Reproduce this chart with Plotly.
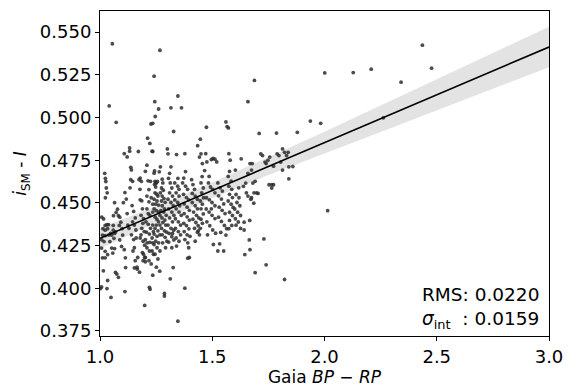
import plotly.graph_objects as go

# Scatter data: (Gaia BP-RP, i_SM - I)
points = [
(1.021,0.4673),(1.024,0.4644),(1.026,0.4625),(1.028,0.4587),(1.024,0.4530),(1.032,0.4559),(1.008,0.4416),(1.016,0.4406),
(1.023,0.4368),(1.031,0.4372),(1.038,0.4372),(1.013,0.4349),(1.023,0.4340),(1.034,0.4349),(1.011,0.4311),(1.023,0.4308),
(1.039,0.4311),(1.047,0.4321),(1.008,0.4283),(1.018,0.4273),(1.007,0.4235),(1.023,0.4216),(1.011,0.4178),(1.023,0.4178),
(1.034,0.4197),(1.015,0.4102),(1.034,0.4045),(1.007,0.4007),(1.002,0.3998),(1.031,0.3998),(1.049,0.3946),(1.059,0.4368),
(1.060,0.4425),(1.065,0.4501),(1.059,0.4340),(1.069,0.4330),(1.052,0.4311),(1.062,0.4292),(1.044,0.4273),(1.052,0.4235),
(1.065,0.4232),(1.057,0.4206),(1.069,0.4092),(1.075,0.4083),(1.082,0.4064),(1.065,0.4321),(1.072,0.4444),(1.078,0.4463),
(1.082,0.4425),(1.088,0.4416),(1.093,0.4387),(1.086,0.4368),(1.098,0.4349),(1.101,0.4311),(1.088,0.4283),(1.104,0.4501),
(1.096,0.4245),(1.111,0.3980),(1.108,0.4226),(1.113,0.4178),(1.114,0.4121),
(1.108,0.4788),(1.111,0.4560),(1.117,0.4522),(1.121,0.4437),(1.124,0.4370),(1.129,0.4351),(1.121,0.4769),(1.132,0.4822),
(1.132,0.4803),(1.137,0.4708),(1.140,0.4693),(1.137,0.4636),(1.134,0.4588),(1.145,0.4626),(1.143,0.4484),(1.150,0.4450),
(1.157,0.4412),(1.145,0.4389),(1.153,0.4370),(1.160,0.4341),(1.140,0.4313),(1.150,0.4285),(1.161,0.4294),(1.153,0.4237),
(1.147,0.4218),(1.168,0.4180),(1.157,0.4161),(1.165,0.4123),(1.153,0.4119),(1.166,0.4112),(1.176,0.4094),(1.171,0.4801),
(1.174,0.4636),(1.179,0.4645),(1.184,0.4626),(1.178,0.4579),(1.179,0.4518),(1.186,0.4512),(1.189,0.4465),(1.183,0.4427),
(1.194,0.4408),(1.191,0.4380),(1.186,0.4351),(1.197,0.4332),(1.183,0.4313),(1.179,0.4294),(1.192,0.4275),(1.199,0.4252),
(1.189,0.4209),(1.192,0.4161),(1.202,0.4155),(1.194,0.4199),(1.199,0.4180),
(1.202,0.4685),(1.209,0.4721),(1.212,0.4879),(1.222,0.4848),(1.232,0.4803),(1.235,0.4801),(1.225,0.4626),(1.214,0.4629),
(1.218,0.4578),(1.209,0.4540),(1.218,0.4506),(1.228,0.4530),(1.235,0.4492),(1.209,0.4465),(1.215,0.4437),(1.222,0.4427),
(1.235,0.4446),(1.205,0.4389),(1.215,0.4374),(1.225,0.4351),(1.235,0.4370),(1.207,0.4328),(1.220,0.4317),(1.232,0.4294),
(1.238,0.4332),(1.202,0.4285),(1.210,0.4266),(1.222,0.4269),(1.235,0.4266),(1.209,0.4237),(1.220,0.4218),(1.232,0.4218),
(1.238,0.4199),(1.202,0.4180),(1.218,0.4161),(1.228,0.4142),(1.235,0.4076),(1.220,0.4005),(1.223,0.3994),(1.243,0.4687),
(1.241,0.4674),(1.245,0.4626),(1.248,0.4617),(1.243,0.4607),(1.251,0.4617),(1.256,0.4625),(1.248,0.4593),(1.245,0.4559),
(1.253,0.4551),(1.258,0.4540),(1.241,0.4521),(1.254,0.4511),(1.248,0.4492),(1.261,0.4487),(1.241,0.4465),(1.251,0.4454),
(1.261,0.4446),(1.267,0.4427),(1.246,0.4416),(1.254,0.4403),(1.261,0.4389),(1.267,0.4370),(1.251,0.4370),(1.245,0.4351),
(1.258,0.4336),(1.241,0.4317),(1.254,0.4304),(1.267,0.4313),(1.248,0.4275),(1.261,0.4266),(1.241,0.4256),(1.254,0.4237),
(1.267,0.4218),(1.245,0.4199),(1.258,0.4171),(1.251,0.4123),(1.266,0.4100),(1.199,0.3899),(1.269,0.4711),(1.264,0.4682),
(1.277,0.4639),(1.280,0.4617),(1.274,0.4587),(1.282,0.4574),(1.269,0.4559),(1.277,0.4540),(1.285,0.4525),(1.274,0.4511),
(1.290,0.4503),(1.277,0.4483),(1.287,0.4465),(1.271,0.4454),(1.284,0.4446),(1.295,0.4427),(1.276,0.4412),(1.289,0.4399),
(1.280,0.4385),(1.293,0.4370),(1.274,0.4351),(1.287,0.4336),(1.297,0.4328),(1.277,0.4313),(1.290,0.4298),(1.298,0.4275),
(1.279,0.4266),(1.292,0.4237),(1.287,0.3969),(1.287,0.3954),(1.300,0.4816),(1.303,0.4787),(1.310,0.4673),(1.316,0.4711),
(1.305,0.4644),(1.313,0.4617),(1.320,0.4587),(1.310,0.4559),(1.323,0.4540),(1.303,0.4521),(1.316,0.4502),(1.326,0.4483),
(1.306,0.4465),(1.320,0.4446),(1.329,0.4427),(1.310,0.4412),(1.323,0.4389),(1.303,0.4370),(1.316,0.4351),(1.328,0.4340),
(1.308,0.4321),(1.320,0.4302),(1.329,0.4283),(1.306,0.4270),(1.320,0.4237),(1.313,0.4055),(1.326,0.4121),(1.323,0.4321),
(1.341,0.4783),(1.347,0.4644),(1.333,0.4617),(1.346,0.4598),(1.352,0.4579),(1.339,0.4559),(1.352,0.4540),(1.333,0.4517),
(1.346,0.4502),(1.355,0.4483),(1.339,0.4465),(1.352,0.4446),(1.362,0.4427),(1.336,0.4407),(1.349,0.4389),(1.359,0.4370),
(1.336,0.4351),(1.349,0.4332),(1.359,0.4313),(1.339,0.4294),(1.352,0.4275),(1.341,0.4247),(1.347,0.3807),
(1.378,0.4788),(1.381,0.4683),(1.373,0.4645),(1.368,0.4617),(1.381,0.4598),(1.390,0.4579),(1.372,0.4550),(1.385,0.4531),
(1.395,0.4518),(1.375,0.4494),(1.388,0.4475),(1.398,0.4456),(1.375,0.4437),(1.388,0.4418),(1.398,0.4399),(1.373,0.4380),
(1.385,0.4367),(1.396,0.4348),(1.375,0.4332),(1.388,0.4313),(1.401,0.4304),(1.378,0.4285),(1.391,0.4266),(1.395,0.4237),
(1.378,0.4000),(1.408,0.4636),(1.414,0.4607),(1.421,0.4579),(1.411,0.4555),(1.424,0.4540),(1.434,0.4521),(1.411,0.4502),
(1.424,0.4483),(1.434,0.4465),(1.417,0.4446),(1.430,0.4427),(1.440,0.4412),(1.414,0.4404),(1.427,0.4385),(1.437,0.4366),
(1.421,0.4351),(1.434,0.4328),(1.443,0.4313),(1.424,0.4275),(1.398,0.4180),(1.391,0.4176),(1.435,0.4835),(1.447,0.4873),
(1.450,0.4787),(1.443,0.4768),(1.456,0.4730),(1.455,0.4654),(1.450,0.4617),(1.460,0.4587),(1.453,0.4559),(1.461,0.4530),
(1.447,0.4511),(1.456,0.4492),(1.450,0.4465),(1.460,0.4435),(1.450,0.4404),(1.456,0.4380),(1.447,0.4351),(1.438,0.4336),
(1.471,0.4788),(1.476,0.4740),(1.466,0.4689),(1.486,0.4655),(1.496,0.4754),(1.504,0.4760),(1.512,0.4756),(1.520,0.4740),
(1.483,0.4617),(1.492,0.4593),(1.502,0.4579),(1.512,0.4559),(1.474,0.4530),(1.487,0.4518),(1.499,0.4502),(1.512,0.4483),
(1.473,0.4464),(1.486,0.4446),(1.499,0.4427),(1.512,0.4408),(1.476,0.4389),(1.489,0.4366),(1.502,0.4341),(1.515,0.4322),
(1.479,0.4313),(1.496,0.4465),(1.505,0.4256),(1.533,0.4260),(1.525,0.4218),(1.551,0.4218),(1.525,0.4617),(1.535,0.4588),
(1.545,0.4569),(1.528,0.4541),(1.541,0.4522),(1.551,0.4494),(1.531,0.4475),(1.544,0.4456),(1.557,0.4437),(1.528,0.4416),
(1.541,0.4391),(1.554,0.4368),(1.564,0.4349),(1.538,0.4327),(1.561,0.4311),(1.574,0.4788),(1.580,0.4750),(1.577,0.4684),
(1.571,0.4655),(1.584,0.4627),(1.574,0.4598),(1.587,0.4579),(1.577,0.4550),(1.590,0.4531),(1.571,0.4511),(1.584,0.4492),
(1.593,0.4473),(1.577,0.4445),(1.590,0.4426),(1.577,0.4397),(1.587,0.4368),(1.574,0.4349),
(1.603,0.4692),(1.618,0.4588),(1.629,0.4758),(1.606,0.4549),(1.619,0.4530),(1.610,0.4502),(1.623,0.4483),(1.600,0.4464),
(1.613,0.4445),(1.626,0.4426),(1.603,0.4407),(1.616,0.4388),(1.606,0.4369),(1.626,0.4350),(1.642,0.4341),(1.645,0.4197),
(1.665,0.4283),(1.668,0.4226),(1.659,0.4673),(1.668,0.4730),(1.678,0.4730),(1.675,0.4692),(1.681,0.4616),(1.686,0.4559),
(1.691,0.4626),(1.698,0.4559),(1.704,0.4555),(1.649,0.4616),(1.639,0.4597),(1.652,0.4559),(1.659,0.4540),(1.672,0.4521),
(1.685,0.4498),(1.691,0.4091),(1.675,0.4530),(1.667,0.4397),(1.642,0.4387),(1.716,0.4787),(1.724,0.4777),(1.730,0.4289),
(1.740,0.4730),(1.748,0.4749),(1.756,0.4768),(1.735,0.4739),(1.765,0.4606),(1.753,0.4606),(1.773,0.4606),(1.765,0.4587),
(1.773,0.4715),(1.789,0.4787),(1.797,0.4777),(1.805,0.4739),(1.813,0.4816),(1.813,0.4692),(1.822,0.4796),(1.838,0.4796),
(1.831,0.4777),(1.841,0.4711),(1.841,0.4641),(1.859,0.4713),(1.740,0.4137),(1.822,0.4051),(2.014,0.4454),
(1.055,0.5432),(1.267,0.5394),(1.241,0.5242),(1.041,0.5068),(1.072,0.4972),(1.244,0.5093),(1.347,0.5126),(1.261,0.5050),
(1.316,0.5057),(1.363,0.5057),(1.246,0.5006),(1.227,0.4962),(1.235,0.4966),(1.328,0.4918),(1.659,0.5093),(1.688,0.5217),
(1.474,0.4943),(1.561,0.4974),(1.566,0.4947),(1.572,0.4939),(1.709,0.4907),(1.786,0.4909),(1.879,0.4913),(1.937,0.4979),
(1.983,0.4966),(2.001,0.5261),(2.128,0.5263),(2.208,0.5283),(2.341,0.5207),(2.436,0.5424),(2.477,0.5289),(2.262,0.4998),
]
bp_rp = [p[0] for p in points]
delta_i = [p[1] for p in points]

# Best-fit line endpoints and confidence band
fit_x = [1.0, 3.0]
fit_y = [0.4292, 0.5413]
band_x = [1.0, 1.25, 1.5, 1.75, 2.0, 2.25, 2.5, 2.75, 3.0]
band_hi = [0.4352, 0.4480, 0.4619, 0.4767, 0.4917, 0.5071, 0.5226, 0.5378, 0.5531]
band_lo = [0.4232, 0.4384, 0.4527, 0.4663, 0.4789, 0.4915, 0.5040, 0.5168, 0.5295]

x_ticks = [1.0, 1.5, 2.0, 2.5, 3.0]
y_ticks = [0.375, 0.400, 0.425, 0.450, 0.475, 0.500, 0.525, 0.550]

FONT = "DejaVu Sans"

fig = go.Figure()
fig.add_trace(go.Scatter(x=band_x + band_x[::-1], y=band_hi + band_lo[::-1],
                         fill="toself", fillcolor="rgba(200,200,200,0.5)",
                         line=dict(width=0), mode="lines", hoverinfo="skip", showlegend=False))
fig.add_trace(go.Scatter(x=bp_rp, y=delta_i, mode="markers",
                         marker=dict(size=3.8, color="rgba(45,45,45,0.85)", line=dict(width=0)),
                         showlegend=False))
fig.add_trace(go.Scatter(x=fit_x, y=fit_y, mode="lines",
                         line=dict(color="black", width=1.6), showlegend=False))

fig.add_annotation(xref="paper", yref="paper", x=0.982, y=0.005,
                   xanchor="right", yanchor="bottom", align="left", showarrow=False,
                   text="RMS: 0.0220<br><i>σ</i><sub>int</sub>  : 0.0159",
                   font=dict(family=FONT, size=18.5, color="black"))

axis_common = dict(showgrid=False, zeroline=False, showline=True, linecolor="black",
                   linewidth=1, mirror=True, ticks="outside", ticklen=4, tickwidth=1,
                   tickcolor="black", tickfont=dict(family=FONT, size=18, color="black"))

fig.update_xaxes(range=[1.0, 3.0], tickvals=x_ticks, tickformat=".1f",
                 title=dict(text="Gaia <i>BP</i> − <i>RP</i>", font=dict(family=FONT, size=17, color="black"),
                            standoff=2),
                 **axis_common)
fig.update_yaxes(range=[0.372, 0.5624], tickvals=y_ticks, tickformat=".3f",
                 title=dict(text="<i>i</i><sub>SM</sub> - <i>I</i>", font=dict(family=FONT, size=17, color="black"),
                            standoff=8),
                 **axis_common)

fig.update_layout(width=573, height=390, margin=dict(l=100, r=24, t=10, b=46),
                  plot_bgcolor="white", paper_bgcolor="white", font=dict(family=FONT))

fig.write_html("out.html")
